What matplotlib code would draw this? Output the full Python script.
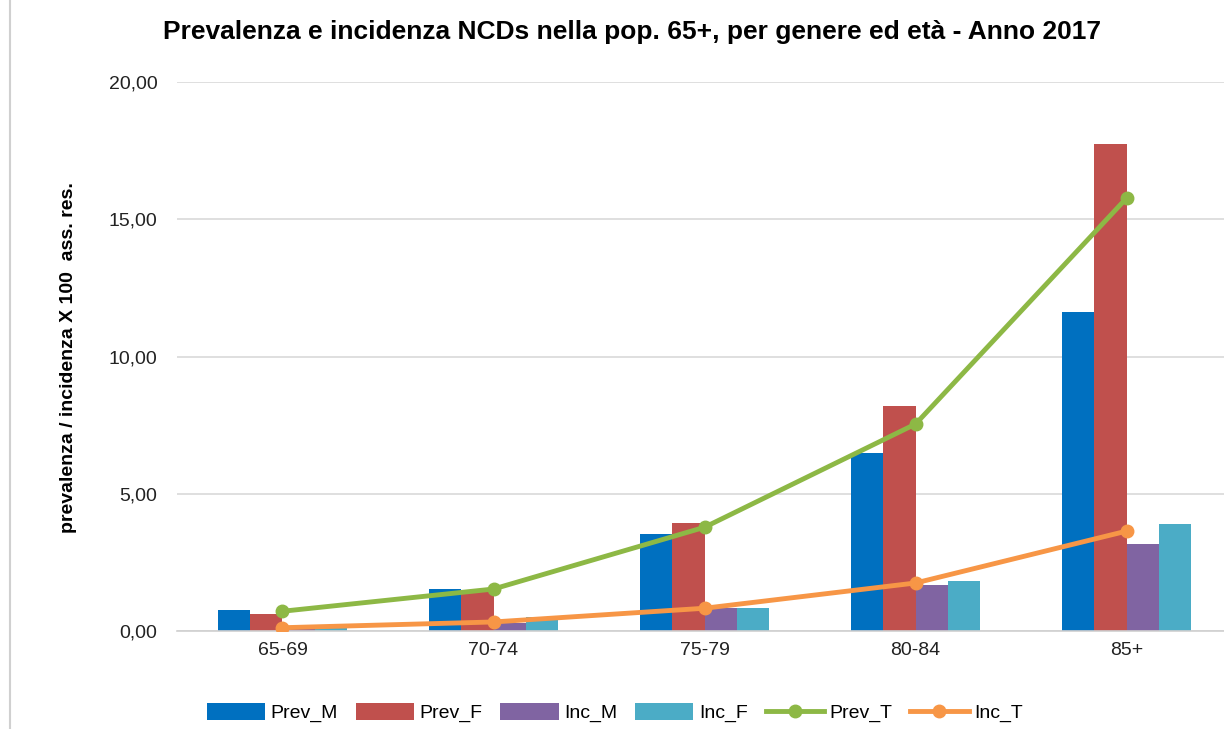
import numpy as np
import matplotlib.pyplot as plt
from matplotlib.lines import Line2D

plt.rcParams['font.family'] = ['Liberation Sans Narrow', 'Liberation Sans', 'DejaVu Sans']

# values (x 100 residents)
categories = ['65-69', '70-74', '75-79', '80-84', '85+']
prev_m = [0.77, 1.53, 3.53, 6.48, 11.62]
prev_f = [0.62, 1.42, 3.93, 8.20, 17.74]
inc_m = [0.10, 0.30, 0.83, 1.68, 3.17]
inc_f = [0.10, 0.50, 0.83, 1.82, 3.90]
prev_t = [0.72, 1.53, 3.78, 7.54, 15.77]
inc_t = [0.12, 0.33, 0.83, 1.75, 3.64]

fig = plt.figure(figsize=(12.24, 7.29), dpi=100)
ax = fig.add_axes([0.1446, 0.1344, 0.862, 0.7531])

x = np.arange(len(categories))
w = 0.152
bars = [(prev_m, '#0070C0', 'Prev_M'), (prev_f, '#C0504D', 'Prev_F'),
        (inc_m, '#8064A2', 'Inc_M'), (inc_f, '#4BACC6', 'Inc_F')]
handles = []
for i, (vals, col, lab) in enumerate(bars):
    b = ax.bar(x + (i - 1.5) * w, vals, width=w, color=col, label=lab, zorder=2)
    handles.append(b)

l1, = ax.plot(x, prev_t, color='#8DB845', lw=3.5, marker='o', ms=9, label='Prev_T', zorder=3)
l2, = ax.plot(x, inc_t, color='#F79646', lw=3.5, marker='o', ms=9, label='Inc_T', zorder=3)
handles += [l1, l2]

ax.set_xlim(-0.5, 4.5)
ax.set_ylim(0, 20)
ax.set_yticks([0, 5, 10, 15, 20])
ax.set_yticklabels(['0,00', '5,00', '10,00', '15,00', '20,00'])
ax.set_xticks(x)
ax.set_xticklabels(categories)
ax.tick_params(length=0, labelsize=14, colors='#222222')
ax.tick_params(axis='y', pad=14)
ax.tick_params(axis='x', pad=8)
ax.grid(axis='y', color='#d9d9d9', lw=1.2, zorder=0)
for s in ['top', 'right', 'left']:
    ax.spines[s].set_visible(False)
ax.spines['bottom'].set_color('#d0d0d0')
ax.spines['bottom'].set_linewidth(1.2)

fig.text(0.056, 0.51, 'prevalenza / incidenza X 100  ass. res.', rotation=90,
         ha='center', va='center', fontsize=14, fontweight='bold')
fig.suptitle('Prevalenza e incidenza NCDs nella pop. 65+, per genere ed età - Anno 2017',
             x=0.516, y=0.972, fontsize=19, fontweight='bold')

ax.legend(handles=handles, labels=[h.get_label() for h in handles],
          loc='upper center', bbox_to_anchor=(0.415, -0.1), ncol=6, frameon=False,
          fontsize=14, handlelength=3.0, handleheight=0.9, columnspacing=0.9,
          handletextpad=0.3)

fig.add_artist(Line2D([0.008, 0.008], [0, 1], color='#d0d0d0', lw=1.5))

fig.savefig('out.png', dpi=100)
